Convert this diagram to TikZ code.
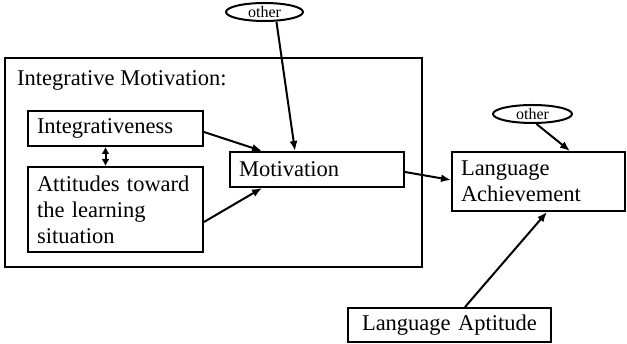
\documentclass[tikz,border=0pt]{standalone}
\usepackage{fontspec}
\setmainfont{Liberation Serif}
\usetikzlibrary{arrows.meta,shapes.geometric}
\tikzset{
  boxnode/.style={draw, line width=2pt, rectangle, inner xsep=9pt, inner ysep=0pt,
    align=left, font=\fontsize{22.5}{26}\selectfont},
  othernode/.style={draw, line width=2pt, ellipse, inner sep=0pt, text height=12pt, text depth=0pt,
    font=\fontsize{16}{18}\selectfont},
  arr/.style={line width=2pt, -{Latex[length=10pt,width=8pt]}},
  darr/.style={line width=2pt, {Latex[length=7pt,width=8pt]}-{Latex[length=7pt,width=8pt]}}
}
\begin{document}
\begin{tikzpicture}[x=1pt,y=-1pt]
\useasboundingbox (0,0) rectangle (627,344);
\node[draw, line width=2pt, rectangle, minimum width=417pt, minimum height=209pt, inner sep=0pt] (outer) at (213.5,162.5) {};
\node[anchor=base west, font=\fontsize{22.5}{26}\selectfont, inner sep=0pt] (title) at (17,86) {Integrative Motivation:};
\node[boxnode, minimum width=175pt, minimum height=35pt, text width=157pt] (integ) at (115.5,128.5) {Integrativeness};
\node[boxnode, minimum width=175pt, minimum height=85pt, text width=157pt] (att) at (115.5,209.5) {Attitudes toward\\the learning\\situation};
\node[boxnode, minimum width=174pt, minimum height=35pt, text width=156pt] (mot) at (317,169.5) {Motivation};
\node[boxnode, minimum width=173pt, minimum height=59pt, text width=155pt] (la) at (538.5,181.5) {Language\\Achievement};
\node[boxnode, minimum width=203pt, minimum height=34pt, text width=185pt, inner xsep=9pt] (apt) at (449.5,325) {\hspace{5pt}Language Aptitude};
\node[othernode, minimum width=77pt, minimum height=18pt] (o1) at (264.5,12) {other};
\node[othernode, minimum width=79pt, minimum height=18pt] (o2) at (532.5,114) {other};
\draw[arr] ([xshift=12pt]o1.south) -- ([xshift=-22pt]mot.north);
\draw[arr] ([yshift=-3.5pt]integ.east) -- ([xshift=33pt]mot.north west);
\draw[arr] ([yshift=-12.5pt]att.east) -- ([xshift=33pt]mot.south west);
\draw[darr] ([xshift=-10pt]integ.south) -- ([xshift=-10pt]att.north);
\draw[arr] ([yshift=-2.5pt]mot.east) -- ([yshift=1.5pt]la.west);
\draw[arr] ([xshift=4pt]o2.south) -- ([xshift=31.5pt]la.north);
\draw[arr] ([xshift=15.5pt]apt.north) -- ([xshift=8.5pt]la.south);
\end{tikzpicture}
\end{document}
